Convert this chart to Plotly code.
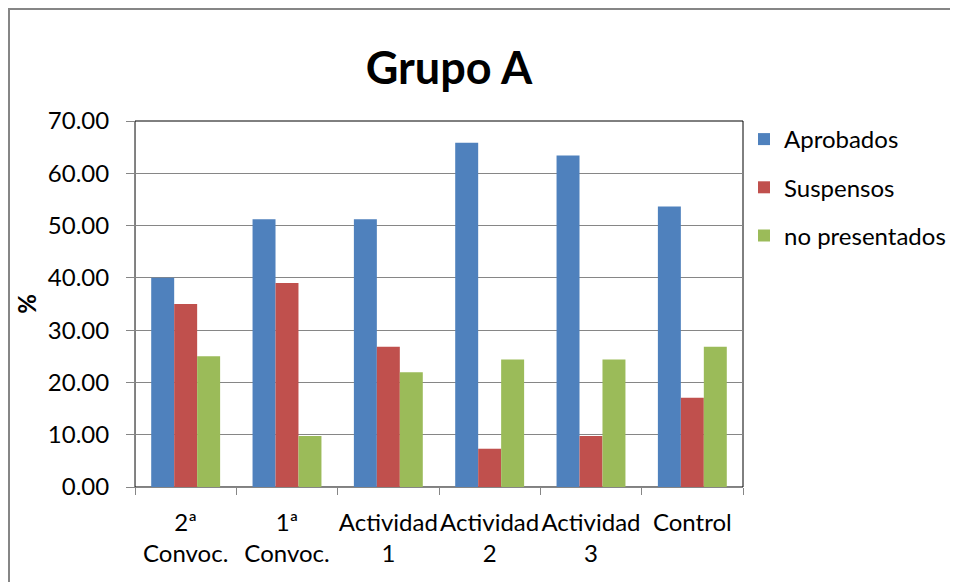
import plotly.graph_objects as go

categories = ["2ª<br>Convoc.", "1ª<br>Convoc.", "Actividad<br>1", "Actividad<br>2", "Actividad<br>3", "Control"]
aprobados = [40.00, 51.22, 51.22, 65.85, 63.41, 53.66]
suspensos = [35.00, 39.02, 26.83, 7.32, 9.76, 17.07]
no_presentados = [25.00, 9.76, 21.95, 24.39, 24.39, 26.83]
series_names = ["Aprobados", "Suspensos", "no presentados"]
colors = ["#4F81BD", "#C0504D", "#9BBB59"]
y_ticks = [0, 10, 20, 30, 40, 50, 60, 70]

# figure is drawn inside the page's 8px body margin
W, H = 950, 574
L, R, T, B = 127, 735, 113, 479

fig = go.Figure()
for i, (name, vals) in enumerate(zip(series_names, [aprobados, suspensos, no_presentados])):
    fig.add_trace(go.Bar(
        x=categories, y=vals, name=name, legendgroup=name,
        marker=dict(color=colors[i], line=dict(width=0)),
    ))

font_family = "Lato, 'Open Sans', sans-serif"

def px_to_paper_x(px):
    return (px - L) / (R - L)

def px_to_paper_y(py):
    return (B - py) / (B - T)

fig.update_layout(
    width=W, height=H,
    margin=dict(l=L, r=W - R, t=T, b=H - B, pad=0, autoexpand=False),
    paper_bgcolor="white", plot_bgcolor="white",
    barmode="group", bargap=0.32, bargroupgap=0,
    font=dict(family=font_family, size=24, color="#000000"),
    title=dict(text="<b>Grupo A</b>", font=dict(family=font_family, size=45, color="#000"),
               x=441 / W, xanchor="center", y=1 - 60 / H, yanchor="middle", yref="container"),
    showlegend=True,
    legend=dict(x=px_to_paper_x(736), xanchor="left", y=px_to_paper_y(109), yanchor="top",
                font=dict(size=24), tracegroupgap=14, bgcolor="rgba(0,0,0,0)",
                itemsizing="constant"),
    xaxis=dict(
        automargin=False, tickangle=0,
        showline=True, linecolor="#868686", linewidth=1,
        ticks="outside", tickson="boundaries", ticklen=7, tickcolor="#868686",
        showgrid=False, tickfont=dict(size=24), ticklabelstandoff=14,
    ),
    yaxis=dict(
        automargin=False,
        range=[0, 70], tickvals=y_ticks, ticktext=[f"{v:.2f}" for v in y_ticks],
        showline=True, linecolor="#868686", linewidth=1,
        ticks="outside", ticklen=8, tickcolor="#868686",
        showgrid=True, gridcolor="#868686", gridwidth=1,
        tickfont=dict(size=24), ticklabelstandoff=12,
        title=dict(text="<b>%</b>", font=dict(size=24), standoff=4),
        zeroline=False,
    ),
    shapes=[
        dict(type="rect", xref="paper", yref="paper", x0=0, x1=1, y0=0, y1=1,
             line=dict(color="#000000", width=1), layer="below"),
        dict(type="rect", xref="paper", yref="paper",
             x0=px_to_paper_x(1), x1=px_to_paper_x(975),
             y0=px_to_paper_y(600), y1=px_to_paper_y(1),
             line=dict(color="#868686", width=2), layer="below"),
    ],
)

fig.write_html("out.html")
